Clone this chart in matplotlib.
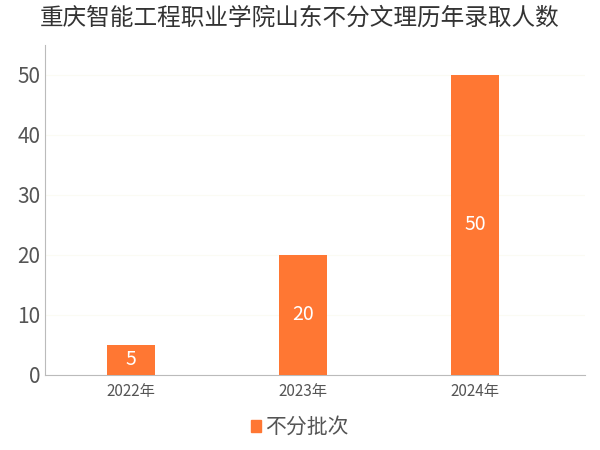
import matplotlib
matplotlib.use("Agg")
import matplotlib.pyplot as plt
from matplotlib.patches import Patch

plt.rcParams['font.family'] = ['Noto Sans CJK SC', 'DejaVu Sans']

categories = ["2022年", "2023年", "2024年"]
values = [5, 20, 50]
series_name = "不分批次"
title = "重庆智能工程职业学院山东不分文理历年录取人数"

fig = plt.figure(figsize=(6, 4.5), dpi=100)
ax = fig.add_axes([0.075, 0.167, 0.9, 0.733])
color = "#FF7733"
x = range(len(categories))
bars = ax.bar(x, values, width=0.28, color=color, zorder=3)
for xi, v in zip(x, values):
    ax.text(xi, v / 2, str(v), ha="center", va="center", color="white", fontsize=14, zorder=4)
ax.set_xlim(-0.5, 2.64)
ax.set_ylim(0, 55)
ax.set_yticks([0, 10, 20, 30, 40, 50])
ax.set_xticks(list(x))
ax.set_xticklabels(categories, fontsize=11, color="#555555")
ax.tick_params(axis='y', labelsize=15, colors="#555555", length=0)
ax.tick_params(axis='x', length=0, pad=6)
ax.grid(axis='y', color="#fbfbf3", linewidth=0.8, zorder=0)
for s in ["top", "right"]:
    ax.spines[s].set_visible(False)
ax.spines["left"].set_color("#bbbbbb")
ax.spines["bottom"].set_color("#bbbbbb")
fig.suptitle(title, fontsize=17, y=0.985, color="#333333")
fig.legend(handles=[Patch(color=color, label=series_name)], loc="lower center",
           bbox_to_anchor=(0.5, -0.015), frameon=False, fontsize=15, handlelength=0.5,
           handleheight=0.5, handletextpad=0.2, labelcolor="#555555")
fig.savefig("out.png")
